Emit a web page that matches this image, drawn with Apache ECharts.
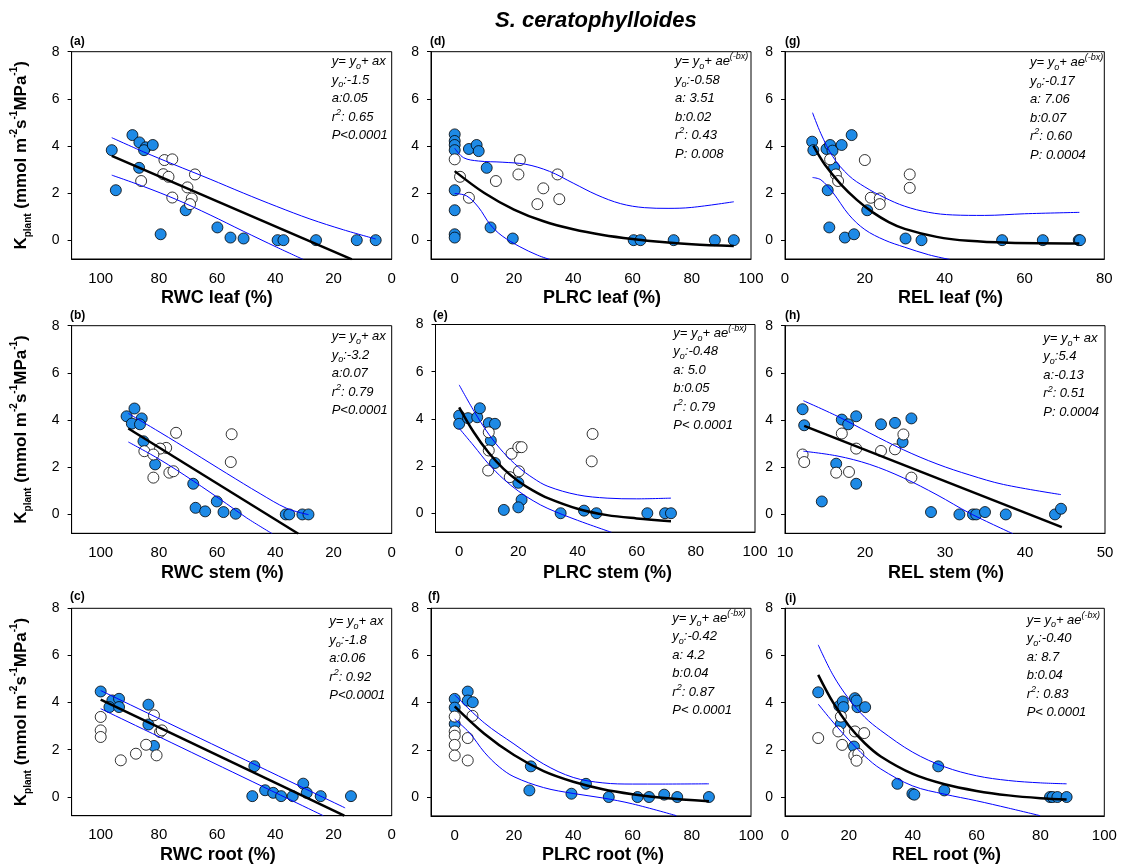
<!DOCTYPE html>
<html>
<head>
<meta charset="utf-8">
<script src="https://cdn.jsdelivr.net/npm/echarts@6/dist/echarts.min.js"></script>
<style>html,body{margin:0;background:#fff}#chart{width:1121px;height:865px}</style>
</head>
<body>
<div id="chart"></div>
<script>
// values: [x, Kplant]
// (a) RWC leaf
const aBlue = [[96.2,3.82],[94.8,2.12],[89.1,4.46],[86.7,4.15],[84.5,3.94],[85.1,3.82],[82.1,4.04],[86.8,3.07],[79.4,0.25],[70.8,1.27],[59.9,0.54],[55.4,0.11],[50.9,0.07],[39.2,0],[37.2,0],[26.0,0],[12.0,0],[5.5,0]]
const aOpen = [[78.1,3.40],[75.4,3.43],[67.6,2.79],[78.5,2.80],[76.7,2.69],[86.1,2.51],[70.2,2.24],[68.7,1.77],[75.4,1.81],[69.3,1.53]]
const aFit = [[96.2,3.58],[13.7,-0.82]]
const aUpper = [[96.2,4.35],[85.3,3.75],[75.0,3.22],[62.4,2.59],[51.0,2.00],[39.5,1.43],[28.1,0.90],[16.6,0.44],[5.5,0.05]]
const aLower = [[96.2,2.76],[85.3,2.28],[73.9,1.72],[62.4,1.07],[51.0,0.38],[39.5,-0.30],[30.4,-0.82]]
const aStats = ['y= y{s|o}+ ax', 'y{s|o}:-1.5', 'a:0.05', 'r{p|2}: 0.65', 'P<0.0001']

// (b) RWC stem
const bBlue = [[91.1,4.16],[88.4,4.49],[89.3,3.85],[85.9,4.07],[86.5,3.82],[85.3,3.10],[81.3,2.12],[68.2,1.30],[67.4,0.28],[64.1,0.13],[60.1,0.55],[57.8,0.10],[53.6,0.03],[36.4,0],[35.2,0],[30.7,0],[28.6,0]]
const bOpen = [[74.1,3.46],[55.0,3.40],[55.3,2.22],[77.5,2.82],[79.6,2.79],[85.0,2.68],[81.9,2.54],[76.4,1.77],[75.0,1.83],[81.9,1.56]]
const bFit = [[90.5,3.64],[32.1,-0.82]]
const bUpper = [[90.5,4.28],[79.6,3.48],[68.2,2.62],[56.7,1.74],[45.2,0.88],[36.1,0.26],[28.6,-0.01]]
const bLower = [[90.5,3.07],[79.6,2.32],[68.2,1.42],[56.7,0.45],[49.8,-0.15],[41.0,-0.82]]
const bStats = ['y= y{s|o}+ ax', 'y{s|o}:-3.2', 'a:0.07', 'r{p|2}: 0.79', 'P<0.0001']

// (c) RWC root
const cBlue = [[100,4.47],[96.0,4.09],[93.7,4.16],[97.0,3.81],[93.7,3.81],[83.6,3.91],[83.6,3.07],[81.7,2.16],[47.2,1.30],[47.9,0.03],[43.5,0.28],[40.7,0.17],[38.0,0.03],[34.0,0.03],[30.4,0.56],[29.2,0.17],[24.4,0.03],[14.0,0.03]]
const cOpen = [[100,3.39],[100,2.82],[100,2.54],[93.1,1.55],[87.9,1.83],[84.4,2.21],[81.7,3.46],[80.8,1.76],[79.6,2.75],[79.0,2.82]]
const cFit = [[100,4.13],[16.3,-0.80]]
const cUpper = [[100,4.51],[16.0,-0.47]]
const cLower = [[100,3.74],[23.5,-0.80]]
const cStats = ['y= y{s|o}+ ax', 'y{s|o}:-1.8', 'a:0.06', 'r{p|2}: 0.92', 'P<0.0001']

// (d) PLRC leaf
const dBlue = [[0,4.49],[0,4.21],[0,4.04],[0,3.82],[4.8,3.87],[7.4,4.04],[8.1,3.78],[10.8,3.07],[0,2.12],[0,1.27],[0,0.25],[0,0.11],[12.1,0.54],[19.6,0.07],[60.4,0],[62.7,0],[73.9,0],[87.8,0],[94.2,0]]
const dOpen = [[0,3.43],[1.8,2.69],[4.8,1.80],[13.9,2.51],[22.0,3.40],[21.5,2.79],[29.9,2.20],[27.9,1.53],[34.7,2.79],[35.3,1.74]]
const dFit = [[0,2.93],[10,2.00],[20,1.30],[30,0.80],[40,0.46],[50,0.22],[60,0.05],[70,-0.08],[80,-0.17],[94.2,-0.25]]
const dUpper = [[0,3.90],[3,3.50],[8,3.36],[16,3.31],[24,3.22],[32,2.92],[40,2.42],[48,1.92],[56,1.55],[64,1.38],[72,1.35],[80,1.39],[94.2,1.63]]
const dLower = [[0,1.98],[4,1.88],[8,1.40],[12,0.66],[16,0.18],[22,-0.28],[28,-0.64],[32.1,-0.82]]
const dStats = ['y= y{s|o}+ ae{p|(-bx)}', 'y{s|o}:-0.58', 'a: 3.51', 'b:0.02', 'r{p|2}: 0.43', 'P: 0.008']

// (e) PLRC stem
const eBlue = [[0,4.14],[0,3.79],[3.0,4.03],[6.1,4.07],[7.0,4.45],[10.0,3.82],[12.1,3.79],[10.7,3.08],[12.1,2.13],[20.0,1.29],[21.1,0.57],[20.0,0.25],[15.1,0.14],[34.3,0],[42.2,0.11],[46.4,0],[63.6,0],[69.6,0],[71.6,0]]
const eOpen = [[10.0,3.43],[10.0,2.66],[9.8,1.81],[17.7,2.52],[20.0,2.80],[21.1,2.80],[20.2,1.78],[17.1,1.53],[45.1,3.36],[44.8,2.20]]
const eFit = [[0,4.49],[5,3.42],[10,2.56],[15,1.88],[20,1.36],[25,0.96],[30,0.64],[40,0.19],[50,-0.08],[60,-0.22],[71.6,-0.34]]
const eUpper = [[0,5.44],[5,4.33],[10,3.35],[15,2.57],[20,1.96],[25,1.49],[30,1.14],[40,0.78],[50,0.64],[60,0.61],[71.6,0.64]]
const eLower = [[0,3.60],[5,2.85],[10,2.08],[15,1.45],[20,0.94],[25,0.53],[30,0.20],[40,-0.30],[51.5,-0.81]]
const eStats = ['y= y{s|o}+ ae{p|(-bx)}', 'y{s|o}:-0.48', 'a: 5.0', 'b:0.05', 'r{p|2}: 0.79', 'P< 0.0001']

// (f) PLRC root
const fBlue = [[0,4.16],[0,3.79],[0,3.10],[4.4,4.47],[4.4,4.09],[6.1,4.02],[25.7,1.30],[25.2,0.28],[39.4,0.14],[44.3,0.56],[52.0,0],[61.7,0],[65.6,0],[70.7,0.10],[75.1,0],[85.8,0]]
const fOpen = [[0,3.41],[0,2.78],[0,2.60],[0,2.21],[0,1.76],[4.4,2.50],[4.4,1.55],[6.0,3.44]]
const fFit = [[0,3.84],[10,2.68],[20,1.78],[30,1.10],[40,0.65],[50,0.33],[60,0.12],[70,-0.03],[85.8,-0.18]]
const fUpper = [[0,4.33],[10,3.14],[20,2.25],[30,1.40],[40,0.83],[50,0.60],[60,0.55],[70,0.55],[85.8,0.56]]
const fLower = [[0,3.30],[5,2.72],[10,1.90],[15,1.28],[20,0.86],[30,0.40],[40,0.15],[50,-0.04],[60,-0.29],[74.8,-0.79]]
const fStats = ['y= y{s|o}+ ae{p|(-bx)}', 'y{s|o}:-0.42', 'a: 4.2', 'b:0.04', 'r{p|2}: 0.87', 'P< 0.0001']

// (g) REL leaf
const gBlue = [[6.8,4.18],[7.1,3.82],[10.4,3.87],[11.3,4.04],[11.9,3.80],[14.2,4.04],[16.7,4.46],[12.3,3.09],[10.7,2.12],[11.1,0.54],[15.0,0.11],[17.3,0.25],[20.6,1.27],[30.2,0.07],[34.2,0],[54.4,0],[64.6,0],[73.6,0],[73.9,0]]
const gOpen = [[11.3,3.43],[12.75,2.79],[13.3,2.51],[20.0,3.40],[21.5,1.80],[23.75,1.77],[23.75,1.53],[31.25,2.79],[31.25,2.22]]
const gFit = [[7.1,4.01],[10,3.20],[14,2.37],[18,1.71],[22,1.18],[26,0.77],[30,0.48],[38,0.14],[46,-0.03],[56,-0.11],[73.75,-0.14]]
const gUpper = [[6.9,5.41],[9,4.52],[12,3.54],[16,2.74],[20,2.26],[25,1.80],[30,1.44],[36,1.18],[42,1.07],[50,1.05],[60,1.12],[73.75,1.18]]
const gLower = [[6.9,2.66],[9,2.56],[12,2.02],[16,1.08],[20,0.45],[25,0.00],[30,-0.30],[36,-0.62],[41.25,-0.82]]
const gStats = ['y= y{s|o}+ ae{p|(-bx)}', 'y{s|o}:-0.17', 'a: 7.06', 'b:0.07', 'r{p|2}: 0.60', 'P: 0.0004']

// (h) REL stem
const hBlue = [[12.2,4.46],[12.4,3.78],[17.1,4.02],[17.9,3.82],[18.9,4.16],[22.0,3.82],[23.75,3.88],[25.8,4.07],[24.7,3.07],[16.4,2.15],[18.9,1.30],[14.6,0.55],[28.25,0.10],[31.8,0],[33.5,0],[33.9,0],[35.0,0.10],[37.6,0],[43.75,0],[44.5,0.24]]
const hOpen = [[12.2,2.54],[12.4,2.22],[17.1,3.43],[18.9,2.79],[16.4,1.77],[18.0,1.80],[22.0,2.69],[23.75,2.76],[24.8,3.39],[25.8,1.56]]
const hFit = [[12.4,3.75],[44.6,-0.54]]
const hUpper = [[12.3,4.82],[16.5,4.17],[20.6,3.45],[24.8,2.74],[29.0,2.14],[33.1,1.67],[37.3,1.27],[44.5,0.84]]
const hLower = [[12.3,2.68],[16.5,2.48],[20.6,2.12],[24.8,1.55],[29.0,0.83],[33.1,0.05],[38.5,-0.82]]
const hStats = ['y= y{s|o}+ ax', 'y{s|o}:5.4', 'a:-0.13', 'r{p|2}: 0.51', 'P: 0.0004']

// (i) REL root
const iBlue = [[10.4,4.44],[17.0,3.86],[18.1,4.05],[18.3,3.81],[21.9,4.19],[22.7,3.81],[22.4,4.09],[25.1,3.81],[17.5,3.10],[21.6,2.14],[48.0,1.30],[35.2,0.56],[39.9,0.14],[40.5,0.10],[49.9,0.28],[83.0,0],[83.8,0],[85.3,0],[88.2,0]]
const iOpen = [[10.4,2.50],[16.7,2.78],[17.5,3.41],[17.9,2.21],[21.9,2.78],[24.8,2.71],[21.7,1.76],[22.97,1.83],[22.4,1.54]]
const iFit = [[10.4,5.18],[15,4.02],[20,3.02],[25,2.28],[30,1.72],[40,0.98],[50,0.54],[60,0.26],[70,0.07],[80,-0.05],[88.2,-0.11]]
const iUpper = [[10.4,6.45],[15,5.18],[20,4.16],[25,3.38],[30,2.82],[40,1.90],[50,1.28],[60,0.90],[70,0.70],[80,0.60],[88.2,0.56]]
const iLower = [[10.4,3.94],[15,3.18],[20,2.42],[25,1.73],[30,1.19],[40,0.47],[50,0.12],[60,-0.16],[70,-0.47],[79.9,-0.79]]
const iStats = ['y= y{s|o}+ ae{p|(-bx)}', 'y{s|o}:-0.40', 'a: 8.7', 'b:0.04', 'r{p|2}: 0.83', 'P< 0.0001']

const yTicks = [0, 2, 4, 6, 8]
const FONT = "'Liberation Sans', Arial, Helvetica, sans-serif"
const BLUE = '#1e8ae6'

// layout: grid = [left, top, width, height]
const panels = [
  { label: '(a)', labelAt: [70, 43], grid: [71.6, 51.7, 320.1, 207.3], x: [0, 110], inverse: true, ticks: [0,20,40,60,80,100], blue: aBlue, open: aOpen, fit: aFit, upper: aUpper, lower: aLower, stats: aStats, statsAt: [331.7, 61.7], name: 'RWC leaf (%)', nameAt: [161, 298], yName: true },
  { label: '(d)', labelAt: [430, 43], grid: [431, 51.7, 320, 207.3], x: [-8, 100], ticks: [0,20,40,60,80,100], blue: dBlue, open: dOpen, fit: dFit, upper: dUpper, lower: dLower, stats: dStats, statsAt: [675, 61.7], name: 'PLRC leaf (%)', nameAt: [543, 298] },
  { label: '(g)', labelAt: [785, 43], grid: [785, 51.7, 319.3, 207.3], x: [0, 80], ticks: [0,20,40,60,80], blue: gBlue, open: gOpen, fit: gFit, upper: gUpper, lower: gLower, stats: gStats, statsAt: [1030, 62.7], name: 'REL leaf (%)', nameAt: [898, 298] },
  { label: '(b)', labelAt: [70, 317], grid: [71.6, 325.7, 320.1, 207.6], x: [0, 110], inverse: true, ticks: [0,20,40,60,80,100], blue: bBlue, open: bOpen, fit: bFit, upper: bUpper, lower: bLower, stats: bStats, statsAt: [331.7, 336.7], name: 'RWC stem (%)', nameAt: [161, 573], yName: true },
  { label: '(e)', labelAt: [433, 317], grid: [435.5, 324.5, 319.5, 207.6], x: [-8, 100], ticks: [0,20,40,60,80,100], blue: eBlue, open: eOpen, fit: eFit, upper: eUpper, lower: eLower, stats: eStats, statsAt: [673.3, 333.3], name: 'PLRC stem (%)', nameAt: [543, 573] },
  { label: '(h)', labelAt: [785, 317], grid: [785, 325.7, 320, 207.6], x: [10, 50], ticks: [10,20,30,40,50], blue: hBlue, open: hOpen, fit: hFit, upper: hUpper, lower: hLower, stats: hStats, statsAt: [1043.3, 338.3], name: 'REL stem (%)', nameAt: [888, 573] },
  { label: '(c)', labelAt: [70, 598], grid: [71.6, 608.3, 320.1, 207.4], x: [0, 110], inverse: true, ticks: [0,20,40,60,80,100], blue: cBlue, open: cOpen, fit: cFit, upper: cUpper, lower: cLower, stats: cStats, statsAt: [329.3, 621.7], name: 'RWC root (%)', nameAt: [160, 855], yName: true },
  { label: '(f)', labelAt: [428, 598], grid: [431, 608.3, 320, 207.6], x: [-8, 100], ticks: [0,20,40,60,80,100], blue: fBlue, open: fOpen, fit: fFit, upper: fUpper, lower: fLower, stats: fStats, statsAt: [672.3, 618.3], name: 'PLRC root (%)', nameAt: [542, 855] },
  { label: '(i)', labelAt: [785, 600], grid: [785, 608.3, 319.3, 207.6], x: [0, 100], ticks: [0,20,40,60,80,100], blue: iBlue, open: iOpen, fit: iFit, upper: iUpper, lower: iLower, stats: iStats, statsAt: [1026.7, 620], name: 'REL root (%)', nameAt: [892, 855] }
]

const yNameText = 'K{sub|plant} (mmol m{sup|-2}s{sup|-1}MPa{sup|-1})'
const statRich = {
  s: { fontSize: 9, fontStyle: 'italic', fontFamily: FONT, color: '#000', verticalAlign: 'bottom', lineHeight: 12 },
  p: { fontSize: 9, fontStyle: 'italic', fontFamily: FONT, color: '#000', verticalAlign: 'top', lineHeight: 11 }
}

const grid = []
const xAxis = []
const yAxis = []
const series = []
const title = [{
  text: 'S. ceratophylloides', left: 495, top: 10, padding: 0,
  textStyle: { fontFamily: FONT, fontSize: 22, fontStyle: 'italic', fontWeight: 'bold', color: '#000' }
}]

panels.forEach((p, i) => {
  const [left, top, width, height] = p.grid
  grid.push({ left, top, width, height, show: true, borderColor: '#000', borderWidth: 1, backgroundColor: 'transparent' })
  xAxis.push({
    gridIndex: i, type: 'value', min: p.x[0], max: p.x[1], inverse: !!p.inverse,
    axisLine: { show: true, onZero: false, lineStyle: { color: '#000', width: 1 } },
    axisTick: { show: false },
    axisLabel: { customValues: p.ticks, margin: 12, fontSize: 15, color: '#000', fontFamily: FONT },
    splitLine: { show: false }
  })
  yAxis.push({
    gridIndex: i, type: 'value', min: -0.8, max: 8,
    axisLine: { show: true, onZero: false, lineStyle: { color: '#000', width: 1 } },
    axisTick: { show: true, length: 4, customValues: yTicks, lineStyle: { color: '#000' } },
    axisLabel: { customValues: yTicks, margin: 12, fontSize: 14, color: '#000', fontFamily: FONT },
    splitLine: { show: false },
    name: p.yName ? yNameText : '', nameLocation: 'middle', nameGap: 38, nameRotate: 90,
    nameTextStyle: {
      fontFamily: FONT, fontSize: 17, fontWeight: 'bold', color: '#000', lineHeight: 24,
      rich: {
        sub: { fontFamily: FONT, fontSize: 10, fontWeight: 'bold', color: '#000', verticalAlign: 'bottom', lineHeight: 13 },
        sup: { fontFamily: FONT, fontSize: 10, fontWeight: 'bold', color: '#000', verticalAlign: 'top', lineHeight: 10 }
      }
    }
  })

  const curve = (data, color, width, z) => ({
    type: 'line', xAxisIndex: i, yAxisIndex: i, data, smooth: 0.35,
    showSymbol: false, symbol: 'none', silent: true, z,
    lineStyle: { color, width }
  })
  series.push({
    type: 'scatter', xAxisIndex: i, yAxisIndex: i, data: p.blue, symbolSize: 11, z: 2,
    itemStyle: { color: BLUE, borderColor: '#000', borderWidth: 0.8, opacity: 1 }
  })
  series.push({
    type: 'scatter', xAxisIndex: i, yAxisIndex: i, data: p.open, symbolSize: 11, z: 2,
    itemStyle: { color: '#fff', borderColor: '#000', borderWidth: 0.8, opacity: 1 }
  })
  series.push(curve(p.upper, '#0000ff', 1, 3))
  series.push(curve(p.lower, '#0000ff', 1, 3))
  series.push(curve(p.fit, '#000', 2.5, 4))

  title.push({
    text: p.label, left: p.labelAt[0], top: p.labelAt[1] - 7, padding: 0,
    textStyle: { fontFamily: FONT, fontSize: 12, fontWeight: 'bold', color: '#000' }
  })
  title.push({
    text: p.stats.join('\n'), left: p.statsAt[0], top: p.statsAt[1] - 9.25, padding: 0,
    textStyle: { fontFamily: FONT, fontSize: 13, fontStyle: 'italic', fontWeight: 'normal', color: '#000', lineHeight: 18.5, rich: statRich }
  })
  title.push({
    text: p.name, left: p.nameAt[0], top: p.nameAt[1] - 10, padding: 0,
    textStyle: { fontFamily: FONT, fontSize: 18, fontWeight: 'bold', color: '#000', lineHeight: 20 }
  })
})

const chart = echarts.init(document.getElementById('chart'))
chart.setOption({
  animation: false,
  backgroundColor: '#fff',
  title,
  grid,
  xAxis,
  yAxis,
  series
})
</script>
</body>
</html>
